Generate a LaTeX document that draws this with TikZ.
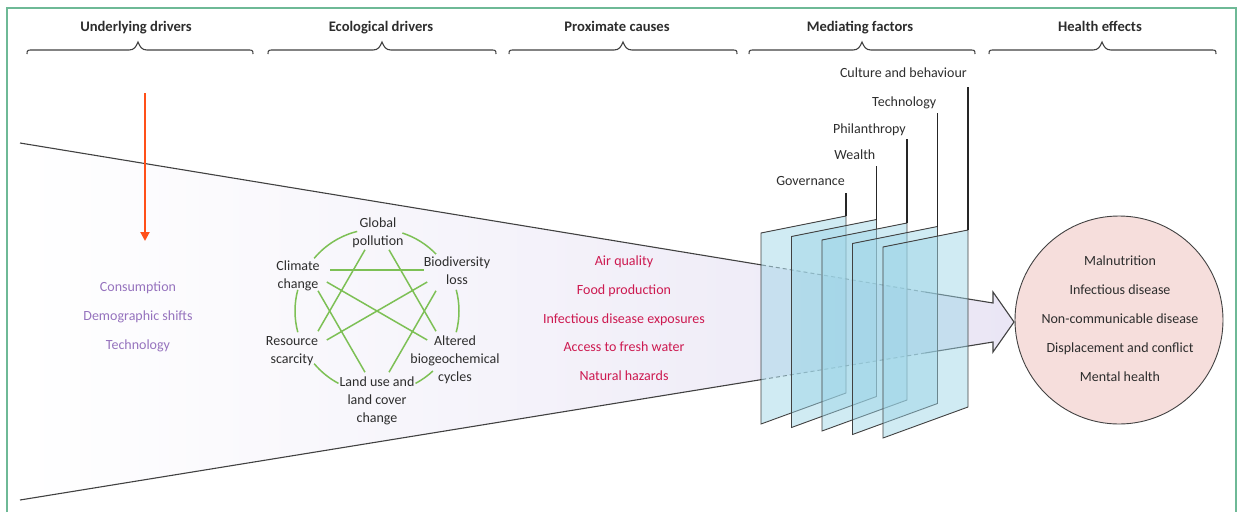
\documentclass[tikz,border=0pt]{standalone}
\usepackage{fontspec}
\setmainfont{Carlito}
\usetikzlibrary{arrows.meta,calc}
\definecolor{framec}{RGB}{110,185,150}
\definecolor{txt}{RGB}{45,45,45}
\definecolor{purp}{RGB}{150,115,190}
\definecolor{crim}{RGB}{205,25,80}
\definecolor{grn}{RGB}{125,192,85}
\definecolor{org}{RGB}{255,80,25}
\definecolor{lav}{RGB}{234,230,245}
\definecolor{panelc}{RGB}{155,212,230}
\definecolor{pinkc}{RGB}{246,222,220}
\definecolor{edgec}{RGB}{65,65,65}
\newcommand\mybrace[3]{%
  \draw[bracest] (#1,54) .. controls (#1,50) and ({#1+1},50) .. ({#1+5},50)
   -- ({#2-9},50) .. controls ({#2-4},50) and ({#2-2},47) .. (#2,42)
   .. controls ({#2+2},47) and ({#2+4},50) .. ({#2+9},50)
   -- ({#3-5},50) .. controls ({#3-1},50) and (#3,50) .. (#3,54);}
\begin{document}
\begin{tikzpicture}[x=1pt,y=-1pt,
  lbl/.style={font=\fontsize{14}{18}\selectfont, text=txt, align=center, inner sep=0pt},
  sl/.style={lbl, text height=10pt, text depth=3pt},
  hdr/.style={font=\bfseries\fontsize{14.6}{16}\selectfont, text=txt, inner sep=0pt, anchor=base},
  purtxt/.style={sl, text=purp},
  crimtxt/.style={sl, text=crim},
  bracest/.style={draw=edgec, line width=1.1pt},
  gline/.style={draw=grn, line width=1.5pt, shorten <=24pt, shorten >=24pt},
  garc/.style={draw=grn, line width=1.5pt},
  funl/.style={draw=edgec, line width=1.1pt},
  fdash/.style={draw=edgec!80, line width=1pt, dash pattern=on 4pt off 3pt},
  panelst/.style={draw=edgec, line width=0.9pt, fill=panelc, fill opacity=0.47},
  vline/.style={draw=black!85, line width=1.4pt},
  orarrow/.style={draw=org, line width=2pt, -{Triangle[width=9pt,length=9pt]}}
]
\useasboundingbox (0,0) rectangle (1242,512);
% frame
\draw[framec, line width=1.2pt] (7,512) -- (7,8) -- (1236,8) -- (1236,512);

% headers and braces
\node[hdr] (h1) at (136,31) {Underlying drivers};
\node[hdr] (h2) at (381,31) {Ecological drivers};
\node[hdr] (h3) at (617,31) {Proximate causes};
\node[hdr] (h4) at (860,31) {Mediating factors};
\node[hdr] (h5) at (1100,31) {Health effects};
\mybrace{27}{138}{253}
\mybrace{268}{382}{496}
\mybrace{509}{623}{737}
\mybrace{749}{862}{975}
\mybrace{989}{1102}{1216}

% funnel
\coordinate (ft0) at (20,143);
\coordinate (ft1) at (762,265);
\coordinate (ft2) at (925,292);
\coordinate (ft3) at (993,303);
\coordinate (ah1) at (993,292);
\coordinate (tip) at (1014,322);
\coordinate (ah2) at (993,352);
\coordinate (fb3) at (993,342);
\coordinate (fb2) at (925,353);
\coordinate (fb1) at (762,379.5);
\coordinate (fb0) at (20,500);
\shade[left color=white, right color=lav] (ft0) -- (ft3) -- (ah1) -- (tip) -- (ah2) -- (fb3) -- (fb0) -- cycle;
\draw[funl] (ft0) -- (ft1);
\draw[fdash] (ft1) -- (ft2);
\draw[funl, line join=miter] (ft2) -- (ft3) -- (ah1) -- (tip) -- (ah2) -- (fb3) -- (fb2);
\draw[fdash] (fb2) -- (fb1);
\draw[funl] (fb1) -- (fb0);

% orange arrow
\coordinate (oa1) at (145,93);
\coordinate (oa2) at (145,241);
\draw[orarrow] (oa1) -- (oa2);

% underlying drivers
\node[purtxt] (u1) at (138,288) {Consumption};
\node[purtxt] (u2) at (138,317) {Demographic shifts};
\node[purtxt] (u3) at (138,346) {Technology};

% ecological network
\coordinate (v1) at (377,229);
\coordinate (v2) at (448,270);
\coordinate (v3) at (448,352);
\coordinate (v4) at (377,393);
\coordinate (v5) at (306,352);
\coordinate (v6) at (306,270);
\foreach \a/\b in {-72/-44,-15/15,47/62,118/140,-165/-195,-104/-140}
  \draw[garc] ([shift={(377,311)}]\a:82) arc[start angle=\a, end angle=\b, radius=82];
\draw[gline] (v6) -- (v2);
\draw[gline] (v1) -- (v5);
\draw[gline] (v1) -- (v3);
\draw[gline] (v6) -- (v3);
\draw[gline] (v2) -- (v5);
\draw[gline] (v6) -- (v4);
\draw[gline] (v2) -- (v4);
\node[lbl] (gp) at (378,233) {Global\\pollution};
\node[lbl] (bl) at (457,271) {Biodiversity\\loss};
\node[lbl] (cc) at (298,276) {Climate\\change};
\node[lbl] (rs) at (292,351) {Resource\\scarcity};
\node[lbl] (ab) at (455,360) {Altered\\biogeochemical\\cycles};
\node[lbl] (lu) at (377,401) {Land use and\\land cover\\change};

% proximate causes
\node[crimtxt] (p1) at (624,262) {Air quality};
\node[crimtxt] (p2) at (624,291) {Food production};
\node[crimtxt] (p3) at (624,320) {Infectious disease exposures};
\node[crimtxt] (p4) at (624,348) {Access to fresh water};
\node[crimtxt] (p5) at (624,377) {Natural hazards};

% mediating panels
\foreach \i/\top/\name/\ly in {0/193/Governance/182,1/166/Wealth/156,2/139/Philanthropy/130,3/113/Technology/103,4/87/Culture and behaviour/74} {
  \pgfmathsetmacro\dx{30.5*\i}
  \pgfmathsetmacro\dy{3.5*\i}
  \draw[panelst] ({761+\dx},{233+\dy}) -- ({846+\dx},{216+\dy}) -- ({846+\dx},{393+\dy}) -- ({761+\dx},{424+\dy}) -- cycle;
  \coordinate (t\i) at ({846+\dx},{216+\dy});
  \coordinate (s\i) at ({846+\dx},\top);
  \draw[vline] (t\i) -- (s\i);
  \node[sl, anchor=east] (m\i) at ({845+\dx},\ly) {\name};
}

% health effects
\node[circle, draw=edgec, fill=pinkc, minimum size=208pt, inner sep=0pt, line width=0.9pt] (he) at (1119,320) {};
\node[sl] (e1) at (1120,262) {Malnutrition};
\node[sl] (e2) at (1120,291) {Infectious disease};
\node[sl] (e3) at (1120,320) {Non-communicable disease};
\node[sl] (e4) at (1120,349) {Displacement and conflict};
\node[sl] (e5) at (1120,378) {Mental health};
\end{tikzpicture}
\end{document}
